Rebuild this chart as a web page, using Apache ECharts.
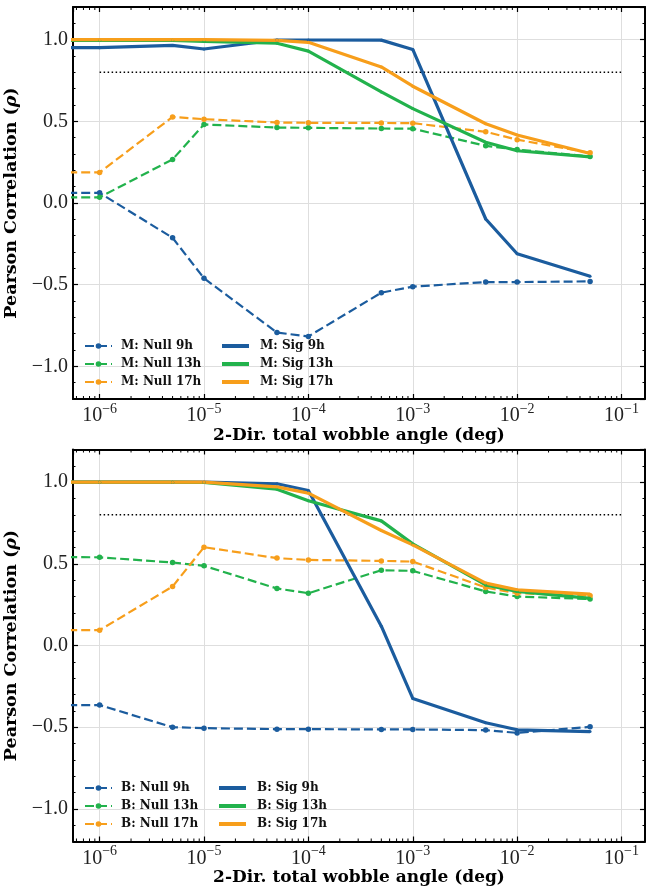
<!DOCTYPE html>
<html><head><meta charset="utf-8">
<script src="https://cdn.jsdelivr.net/npm/echarts@6/dist/echarts.min.js"></script>
<style>html,body{margin:0;padding:0;background:#fff}#c{width:646px;height:888px}</style>
</head><body><div id="c"></div>
<script>
// ---- data ----
const xValues = [5e-7, 1e-6, 5e-6, 1e-5, 5e-5, 1e-4, 5e-4, 1e-3, 5e-3, 1e-2, 5e-2];

const mNull9  = [0.062, 0.062, -0.213, -0.461, -0.793, -0.817, -0.549, -0.512, -0.484, -0.484, -0.480];
const mNull13 = [0.035, 0.035, 0.267, 0.481, 0.462, 0.460, 0.456, 0.455, 0.350, 0.327, 0.285];
const mNull17 = [0.187, 0.187, 0.527, 0.513, 0.493, 0.491, 0.490, 0.489, 0.436, 0.388, 0.307];
const mSig9   = [0.951, 0.951, 0.965, 0.943, 0.998, 0.998, 0.997, 0.940, -0.098, -0.311, -0.449];
const mSig13  = [0.996, 0.996, 0.996, 0.990, 0.978, 0.930, 0.680, 0.578, 0.372, 0.320, 0.282];
const mSig17  = [1.000, 1.000, 1.000, 1.000, 0.996, 0.984, 0.833, 0.715, 0.485, 0.416, 0.303];

const bNull9  = [-0.365, -0.365, -0.500, -0.506, -0.512, -0.512, -0.514, -0.514, -0.518, -0.535, -0.498];
const bNull13 = [0.541, 0.540, 0.508, 0.488, 0.349, 0.320, 0.461, 0.457, 0.331, 0.300, 0.284];
const bNull17 = [0.094, 0.094, 0.361, 0.602, 0.535, 0.524, 0.518, 0.514, 0.355, 0.320, 0.305];
const bSig9   = [1.000, 1.000, 1.000, 1.000, 0.990, 0.949, 0.118, -0.324, -0.473, -0.516, -0.527];
const bSig13  = [1.000, 1.000, 1.000, 0.998, 0.957, 0.886, 0.763, 0.622, 0.371, 0.331, 0.288];
const bSig17  = [1.000, 1.000, 1.000, 1.000, 0.971, 0.933, 0.704, 0.616, 0.382, 0.341, 0.314];

const thresholdX = [1e-6, 1e-1];
const thresholdValue = 0.8;

const minorMantissas = [2, 3, 4, 5, 6, 7, 8, 9];
const minorDecades = [1e-7, 1e-6, 1e-5, 1e-4, 1e-3, 1e-2, 1e-1];

const topNames = ['M: Null 9h', 'M: Null 13h', 'M: Null 17h', 'M: Sig 9h', 'M: Sig 13h', 'M: Sig 17h'];
const botNames = ['B: Null 9h', 'B: Null 13h', 'B: Null 17h', 'B: Sig 9h', 'B: Sig 13h', 'B: Sig 17h'];

const xTitle = '2-Dir. total wobble angle (deg)';
const yTitle = 'Pearson Correlation ({i|ρ})';

// ---- styling ----
const FONT = 'Liberation Serif';
const TFONT = 'DejaVu Serif';
const BLUE = '#1b5c9e', GREEN = '#22b24c', ORANGE = '#f79e1b';
const X_MIN = Math.pow(10, -6.255), X_MAX = Math.pow(10, -0.775);
const Y_MIN = -1.2, Y_MAX = 1.2;

const grids = [
  {left: 73, top: 7, width: 572, height: 392, outerBoundsMode: 'none', containLabel: false},
  {left: 73, top: 449.5, width: 572, height: 392, outerBoundsMode: 'none', containLabel: false}
];

const minorXTicks = [];
minorDecades.forEach(d => minorMantissas.forEach(m => {
  const v = m * d;
  if (v > X_MIN && v < X_MAX) minorXTicks.push([v, 0]);
}));

const spine = {show: true, onZero: false, lineStyle: {color: '#000', width: 2}};
const tickMajor = {show: true, inside: true, length: 5, lineStyle: {color: '#000', width: 1.2}};
const tickMinor = {show: true, inside: true, length: 2.5, lineStyle: {color: '#000', width: 1}};

const xAxes = [], yAxes = [];
grids.forEach((g, gi) => {
  xAxes.push({
    type: 'log', logBase: 10, gridIndex: gi, position: 'bottom', min: X_MIN, max: X_MAX,
    axisLine: spine, axisTick: tickMajor,
    splitLine: {show: true, lineStyle: {color: '#dedede', width: 1}},
    axisLabel: {
      margin: 3, showMinLabel: false, showMaxLabel: false,
      formatter: v => { const e = Math.round(Math.log10(v)); return '{b|10}{s|−' + (-e) + '}'; },
      rich: {
        b: {fontFamily: FONT, fontSize: 20, color: '#222', verticalAlign: 'bottom', lineHeight: 24},
        s: {fontFamily: FONT, fontSize: 14, color: '#222', verticalAlign: 'top', lineHeight: 14}
      }
    },
    name: xTitle, nameLocation: 'middle', nameGap: 20,
    nameTextStyle: {fontFamily: TFONT, fontSize: 17, fontWeight: 'bold', color: '#000'}
  });
  xAxes.push({
    type: 'log', logBase: 10, gridIndex: gi, position: 'top', min: X_MIN, max: X_MAX,
    axisLine: spine, axisTick: tickMajor, splitLine: {show: false}, axisLabel: {show: false}
  });
  yAxes.push({
    type: 'value', gridIndex: gi, position: 'left', min: Y_MIN, max: Y_MAX, splitNumber: 5,
    axisLine: spine, axisTick: tickMajor,
    splitLine: {show: true, lineStyle: {color: '#dedede', width: 1}},
    axisLabel: {
      margin: 5, showMinLabel: false, showMaxLabel: false,
      fontFamily: FONT, fontSize: 20, color: '#222',
      formatter: v => (v < -1e-9 ? '−' : '') + Math.abs(v).toFixed(1)
    },
    name: yTitle, nameLocation: 'middle', nameGap: 38,
    nameTextStyle: {fontFamily: TFONT, fontSize: 17.5, fontWeight: 'bold', color: '#000',
      rich: {i: {fontFamily: TFONT, fontSize: 17.5, fontStyle: 'italic', color: '#000'}}}
  });
  yAxes.push({
    type: 'value', gridIndex: gi, position: 'left', min: Y_MIN, max: Y_MAX, splitNumber: 24,
    axisLine: {show: false, onZero: false}, axisTick: tickMinor, axisLabel: {show: false}, splitLine: {show: false}
  });
  yAxes.push({
    type: 'value', gridIndex: gi, position: 'right', min: Y_MIN, max: Y_MAX, splitNumber: 5,
    axisLine: spine, axisTick: tickMajor, axisLabel: {show: false}, splitLine: {show: false}
  });
  yAxes.push({
    type: 'value', gridIndex: gi, position: 'right', min: Y_MIN, max: Y_MAX, splitNumber: 24,
    axisLine: {show: false, onZero: false}, axisTick: tickMinor, axisLabel: {show: false}, splitLine: {show: false}
  });
});

function lineSeries(name, vals, color, sig, gi) {
  return {
    name, type: 'line', xAxisIndex: gi * 2, yAxisIndex: gi * 4,
    data: xValues.map((x, i) => [x, vals[i]]),
    symbol: 'circle', symbolSize: sig ? 3 : 5.5, showSymbol: true,
    lineStyle: {color, width: sig ? 3.2 : 2.2, type: sig ? 'solid' : [9, 4]},
    itemStyle: {color}, clip: true, animation: false, z: sig ? 4 : 3,
    emphasis: {disabled: true}, silent: true
  };
}

function thresholdSeries(gi) {
  return {
    type: 'line', xAxisIndex: gi * 2, yAxisIndex: gi * 4,
    data: thresholdX.map(x => [x, thresholdValue]),
    symbol: 'none', lineStyle: {color: '#000', width: 1.5, type: [1.5, 2.5]},
    animation: false, z: 2, silent: true
  };
}

function minorTickSeries(gi) {
  return {
    type: 'custom', xAxisIndex: gi * 2, yAxisIndex: gi * 4, data: minorXTicks, silent: true, z: 5,
    renderItem: (params, api) => {
      const cs = params.coordSys;
      const x = api.coord([api.value(0), api.value(1)])[0];
      return {type: 'group', children: [
        {type: 'line', shape: {x1: x, y1: cs.y + cs.height, x2: x, y2: cs.y + cs.height - 3}, style: {stroke: '#000', lineWidth: 1}},
        {type: 'line', shape: {x1: x, y1: cs.y, x2: x, y2: cs.y + 3}, style: {stroke: '#000', lineWidth: 1}}
      ]};
    }
  };
}

const series = [
  thresholdSeries(0),
  lineSeries(topNames[0], mNull9, BLUE, false, 0),
  lineSeries(topNames[1], mNull13, GREEN, false, 0),
  lineSeries(topNames[2], mNull17, ORANGE, false, 0),
  lineSeries(topNames[3], mSig9, BLUE, true, 0),
  lineSeries(topNames[4], mSig13, GREEN, true, 0),
  lineSeries(topNames[5], mSig17, ORANGE, true, 0),
  minorTickSeries(0),
  thresholdSeries(1),
  lineSeries(botNames[0], bNull9, BLUE, false, 1),
  lineSeries(botNames[1], bNull13, GREEN, false, 1),
  lineSeries(botNames[2], bNull17, ORANGE, false, 1),
  lineSeries(botNames[3], bSig9, BLUE, true, 1),
  lineSeries(botNames[4], bSig13, GREEN, true, 1),
  lineSeries(botNames[5], bSig17, ORANGE, true, 1),
  minorTickSeries(1)
];

function legend(names, left, top, sig) {
  const l = {
    show: true, data: names, left, top, orient: 'vertical', padding: 0, itemGap: 0,
    itemWidth: 27, itemHeight: sig ? 4 : 7, selectedMode: false,
    textStyle: {fontFamily: TFONT, fontSize: 12, fontWeight: 'bold', color: '#111', lineHeight: 18,
      padding: [0, 0, 0, sig ? 6 : 4]}
  };
  if (sig) l.icon = 'rect';
  return l;
}

const option = {
  backgroundColor: '#fff',
  animation: false,
  grid: grids,
  xAxis: xAxes,
  yAxis: yAxes,
  legend: [
    legend(topNames.slice(0, 3), 84, 337, false),
    legend(topNames.slice(3), 222, 337, true),
    legend(botNames.slice(0, 3), 84, 779, false),
    legend(botNames.slice(3), 219, 779, true)
  ],
  series
};

const chart = echarts.init(document.getElementById('c'), null, {renderer: 'canvas'});
chart.setOption(option);
</script>
</body></html>
